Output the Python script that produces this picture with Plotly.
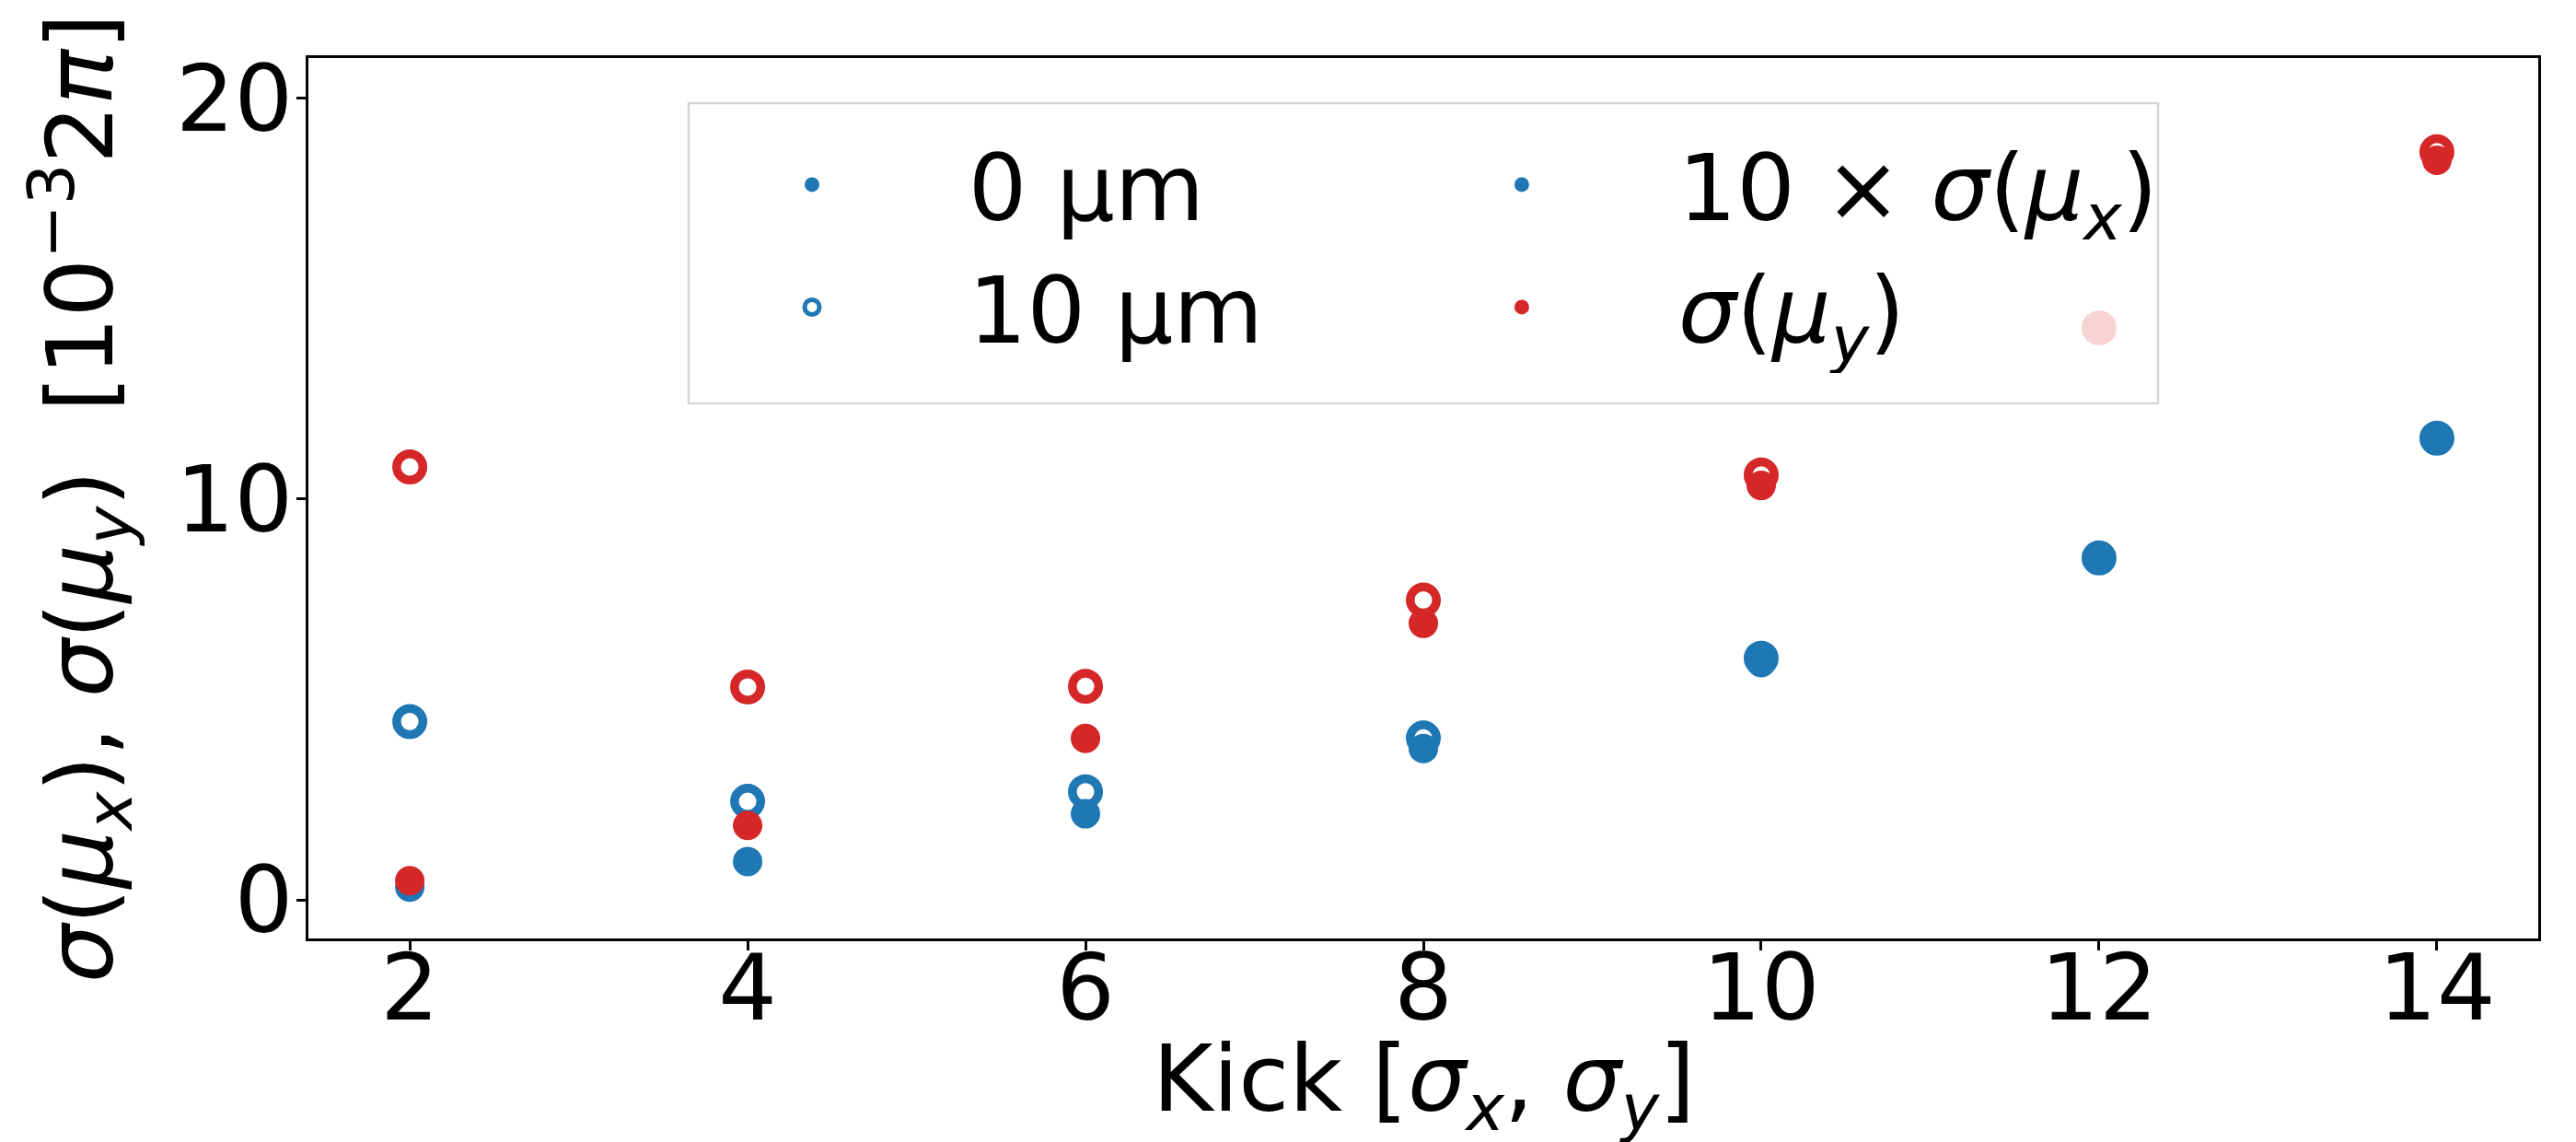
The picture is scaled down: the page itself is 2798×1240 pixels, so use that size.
import plotly.graph_objects as go

# ---- data ----
kick = [2, 4, 6, 8, 10, 12, 14]
sx_0um = [0.32, 0.96, 2.15, 3.78, 5.92, 8.53, 11.49]      # 10 x sigma(mu_x), 0 um
sx_10um = [4.45, 2.46, 2.70, 4.04, 6.03, 8.53, 11.52]     # 10 x sigma(mu_x), 10 um
sy_0um = [0.48, 1.86, 4.03, 6.90, 10.34, 14.27, 18.45]    # sigma(mu_y), 0 um
sy_10um = [10.80, 5.31, 5.33, 7.48, 10.60, 14.27, 18.66]  # sigma(mu_y), 10 um

x_ticks = [2, 4, 6, 8, 10, 12, 14]
y_ticks = [0, 10, 20]

BLUE = "#1f77b4"
RED = "#d62728"
FONT = "DejaVu Sans"

fig = go.Figure()

def open_trace(y, color):
    return go.Scatter(
        x=kick, y=y, mode="markers", showlegend=False, cliponaxis=False,
        marker=dict(symbol="circle", size=28.5, color="white",
                    line=dict(color=color, width=9.5)),
        hoverinfo="skip")

def filled_trace(y, color):
    return go.Scatter(
        x=kick, y=y, mode="markers", showlegend=False, cliponaxis=False,
        marker=dict(symbol="circle", size=32, color=color, line=dict(width=0)),
        hoverinfo="skip")

fig.add_trace(open_trace(sx_10um, BLUE))
fig.add_trace(filled_trace(sx_0um, BLUE))
fig.add_trace(open_trace(sy_10um, RED))
fig.add_trace(filled_trace(sy_0um, RED))

# legend entries: two columns (two legends)
PAD = "\u00a0\u200a"
legend_items = [
    ("legend", PAD + "0 µm", dict(symbol="circle", size=32, color=BLUE, line=dict(width=0))),
    ("legend", PAD + "10 µm", dict(symbol="circle", size=28.5, color="white", line=dict(color=BLUE, width=9.5))),
    ("legend2", PAD + "10 × <i>σ</i>(<i>μ</i><sub><i>x</i></sub>)", dict(symbol="circle", size=32, color=BLUE, line=dict(width=0))),
    ("legend2", PAD + "<i>σ</i>(<i>μ</i><sub><i>y</i></sub>)", dict(symbol="circle", size=32, color=RED, line=dict(width=0))),
]
for lg, name, mk in legend_items:
    fig.add_trace(go.Scatter(x=[None], y=[None], mode="markers", name=name,
                             legend=lg, marker=mk))

# legend frame (semi-transparent white box, drawn above the markers)
fig.add_shape(type="rect", xref="paper", yref="paper",
              x0=0.1705, x1=0.8295, y0=0.6078, y1=0.9487,
              fillcolor="rgba(255,255,255,0.8)",
              line=dict(color="#d6d6d6", width=2.5), layer="above")

# x-axis title as an annotation (axis titles are clamped inside the margin)
fig.add_annotation(
    text="Kick [<i>σ</i><sub><i>x</i></sub>, <i>σ</i><sub><i>y</i></sub>]",
    xref="paper", yref="paper", x=0.5, y=-0.1673,
    xanchor="center", yanchor="middle", showarrow=False,
    font=dict(family=FONT, size=100, color="black"),
)

legend_common = dict(
    orientation="v", yanchor="top", xanchor="left",
    bgcolor="rgba(0,0,0,0)", borderwidth=0,
    font=dict(family=FONT, size=100, color="black"),
    itemwidth=246, tracegroupgap=0,
)

fig.update_layout(
    width=2798, height=1240,
    margin=dict(l=335, r=41, t=63, b=221, pad=0),
    paper_bgcolor="white", plot_bgcolor="white",
    font=dict(family=FONT, size=100, color="black"),
    showlegend=True,
    legend=dict(x=0.1730, y=0.931, **legend_common),
    legend2=dict(x=0.4913, y=0.931, **legend_common),
    xaxis=dict(
        range=[1.4, 14.6], tickvals=x_ticks,
        ticks="outside", ticklen=10, tickwidth=2.5, tickcolor="black",
        showline=True, linecolor="black", linewidth=2.5, mirror=True,
        showgrid=False, zeroline=False,
        tickfont=dict(family=FONT, size=100),
        ticklabelstandoff=-45,
        automargin=False,
    ),
    yaxis=dict(
        range=[-0.96, 21], tickvals=y_ticks,
        ticks="outside", ticklen=10, tickwidth=2.5, tickcolor="black",
        showline=True, linecolor="black", linewidth=2.5, mirror=True,
        showgrid=False, zeroline=False,
        tickfont=dict(family=FONT, size=100),
        ticklabelstandoff=-16,
        title=dict(text="<i>σ</i>(<i>μ</i><sub><i>x</i></sub>), <i>σ</i>(<i>μ</i><sub><i>y</i></sub>)\u00a0 [10<sup>−3</sup>2<i>π</i>]",
                   font=dict(family=FONT, size=100), standoff=36),
        automargin=False,
    ),
)

fig.write_html("out.html")
